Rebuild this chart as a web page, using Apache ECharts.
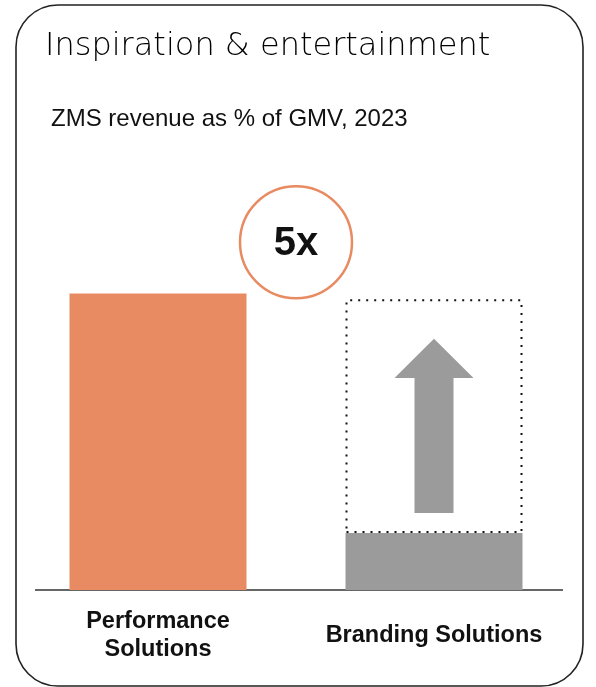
<!DOCTYPE html>
<html>
<head>
<meta charset="utf-8">
<style>
  html, body { margin: 0; padding: 0; background: #ffffff; }
  #chart { width: 596px; height: 687px; }
</style>
<script src="https://cdn.jsdelivr.net/npm/echarts@6/dist/echarts.min.js"></script>
</head>
<body>
<div id="chart"></div>
<script>
// ZMS revenue as % of GMV, 2023 (relative units, Branding = 1)
const categories = ['Performance\nSolutions', 'Branding Solutions'];
const revenueShare = [5.2, 1.0];
const brandingPotential = [null, 5.1];
const upliftLabel = '5x';

const barColors = ['#e88a62', '#9b9b9b'];

// the dotted box sits on top of the current bar, reaching the potential level
const potentialGap = brandingPotential.map((v, i) => v == null ? null : v - revenueShare[i]);

const chart = echarts.init(document.getElementById('chart'), null, { renderer: 'canvas' });

const option = {
  animation: false,
  backgroundColor: '#ffffff',
  title: [
    {
      text: 'Inspiration & entertainment',
      left: 45, top: 31, padding: 0,
      textStyle: { fontFamily: 'DejaVu Sans', fontWeight: 200, fontSize: 32, color: '#000000' }
    },
    {
      text: 'ZMS revenue as % of GMV, 2023',
      left: 51, top: 107, padding: 0,
      textStyle: { fontFamily: 'Liberation Sans', fontWeight: 'normal', fontSize: 24, color: '#111111' }
    }
  ],
  grid: { left: 20, right: 24, top: 134, bottom: 97 },
  xAxis: {
    type: 'category',
    data: categories,
    axisLine: { show: false },
    axisTick: { show: false },
    axisLabel: {
      margin: 46,
      verticalAlign: 'middle',
      fontFamily: 'Liberation Sans', fontWeight: 'bold', fontSize: 23.5,
      color: '#111111', lineHeight: 28, interval: 0
    }
  },
  yAxis: { type: 'value', min: 0, max: 8, show: false, splitLine: { show: false } },
  series: [
    {
      name: 'Revenue share',
      type: 'bar',
      stack: 'share',
      barWidth: 177,
      data: revenueShare.map((v, i) => ({ value: v, itemStyle: { color: barColors[i] } }))
    },
    {
      name: 'Potential',
      type: 'bar',
      stack: 'share',
      barWidth: 177,
      data: potentialGap,
      itemStyle: {
        color: 'rgba(0,0,0,0)',
        borderColor: '#111111',
        borderWidth: 2,
        borderType: [2, 6]
      }
    }
  ]
};
chart.setOption(option);

// decorations placed through the axes' own scales
function decorate() {
  const axisY = chart.convertToPixel({ yAxisIndex: 0 }, 0);
  const p0 = chart.convertToPixel({ xAxisIndex: 0 }, 0);
  const p1 = chart.convertToPixel({ xAxisIndex: 0 }, 1);
  const midX = (p0 + p1) / 2;
  const circleY = chart.convertToPixel({ yAxisIndex: 0 }, 6.1);

  const arrowTop = chart.convertToPixel({ yAxisIndex: 0 }, 4.41);
  const headBase = chart.convertToPixel({ yAxisIndex: 0 }, 3.72);
  const arrowBottom = chart.convertToPixel({ yAxisIndex: 0 }, 1.35);
  const headHalf = 39.5, shaftHalf = 19.5;

  chart.setOption({
    graphic: [
      {
        type: 'rect', silent: true,
        shape: { x: 16, y: 5, width: 567, height: 681, r: 42 },
        style: { fill: null, stroke: '#222222', lineWidth: 1.6 }
      },
      {
        type: 'line', silent: true,
        shape: { x1: 35, y1: axisY, x2: 563, y2: axisY },
        style: { stroke: '#333333', lineWidth: 1.6 }
      },
      {
        type: 'circle', silent: true,
        shape: { cx: midX, cy: circleY, r: 56 },
        style: { fill: '#ffffff', stroke: '#e88a62', lineWidth: 2.5 }
      },
      {
        type: 'text', silent: true,
        x: midX, y: circleY + 2,
        style: {
          text: upliftLabel, align: 'center', verticalAlign: 'middle',
          font: 'bold 40px "Liberation Sans"', fill: '#111111'
        }
      },
      {
        type: 'polygon', silent: true,
        shape: {
          points: [
            [p1, arrowTop],
            [p1 + headHalf, headBase],
            [p1 + shaftHalf, headBase],
            [p1 + shaftHalf, arrowBottom],
            [p1 - shaftHalf, arrowBottom],
            [p1 - shaftHalf, headBase],
            [p1 - headHalf, headBase]
          ]
        },
        style: { fill: '#9b9b9b' }
      }
    ]
  });
}
decorate();
</script>
</body>
</html>
